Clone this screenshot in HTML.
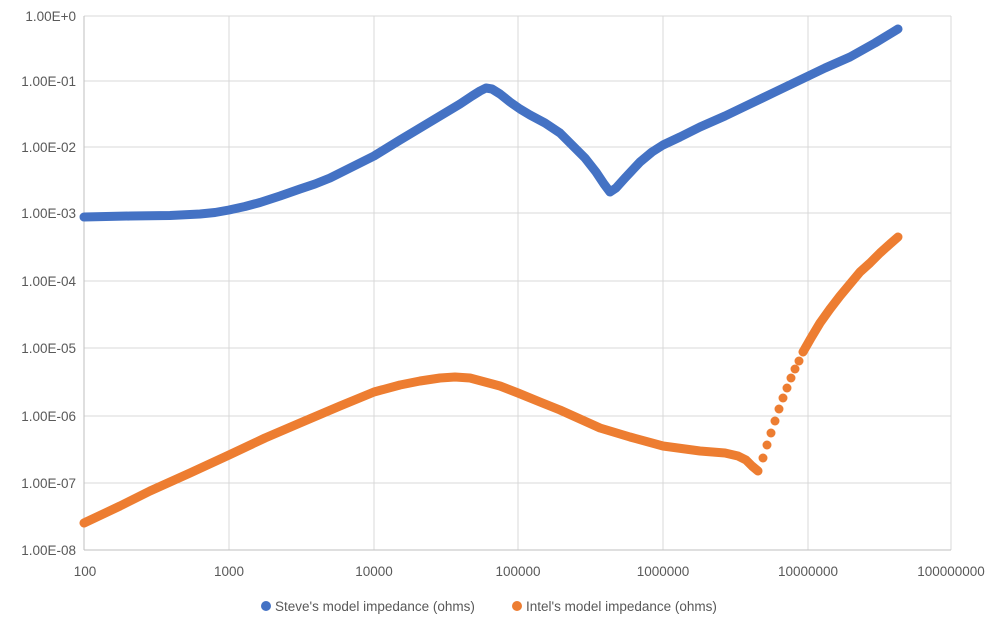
<!DOCTYPE html>
<html><head><style>
html,body{margin:0;padding:0;background:#fff;}
svg{display:block;font-family:"Liberation Sans",sans-serif;}
</style></head><body>
<svg width="999" height="625" viewBox="0 0 999 625">
<g stroke="#d9d9d9" stroke-width="1">
<line x1="84" y1="16" x2="951" y2="16"/><line x1="84" y1="81" x2="951" y2="81"/>
<line x1="84" y1="147" x2="951" y2="147"/><line x1="84" y1="213" x2="951" y2="213"/>
<line x1="84" y1="281" x2="951" y2="281"/><line x1="84" y1="348" x2="951" y2="348"/>
<line x1="84" y1="416" x2="951" y2="416"/><line x1="84" y1="483" x2="951" y2="483"/>
<line x1="229" y1="16" x2="229" y2="550"/><line x1="374" y1="16" x2="374" y2="550"/>
<line x1="518" y1="16" x2="518" y2="550"/><line x1="663" y1="16" x2="663" y2="550"/>
<line x1="808" y1="16" x2="808" y2="550"/><line x1="951" y1="16" x2="951" y2="550"/>
</g>
<g stroke="#bfbfbf" stroke-width="1"><line x1="84" y1="16" x2="84" y2="550"/><line x1="84" y1="550" x2="951" y2="550"/></g>
<g font-size="13.5" fill="#595959" text-anchor="end">
<text x="76" y="21">1.00E+0</text><text x="76" y="86">1.00E-01</text><text x="76" y="152">1.00E-02</text>
<text x="76" y="218">1.00E-03</text><text x="76" y="286">1.00E-04</text><text x="76" y="353">1.00E-05</text>
<text x="76" y="421">1.00E-06</text><text x="76" y="488">1.00E-07</text><text x="76" y="555">1.00E-08</text>
</g>
<g font-size="13.5" fill="#595959" text-anchor="middle">
<text x="85" y="576">100</text><text x="229" y="576">1000</text><text x="374" y="576">10000</text>
<text x="518" y="576">100000</text><text x="663" y="576">1000000</text><text x="808" y="576">10000000</text>
<text x="951" y="576">100000000</text>
</g>
<polyline fill="none" stroke="#4472c4" stroke-width="9" stroke-linecap="round" stroke-linejoin="round"
points="84,217 130,216 170,215.5 200,214 215,212.5 229,210 245,206.5 260,202.5 280,196 300,189 315,184 330,178 350,168 374,156 400,140 420,128 440,116 460,104 472,96 480,91 486,88 492,89 500,94 510,102 520,109 530,115 545,123 560,133 572,145 585,158 596,172 604,184 610,192 616,188 625,178 640,162 652,152 663,145 680,137 700,127 725,116 750,104 775,92 800,80 825,68 850,57 875,43 898,29"/>
<polyline fill="none" stroke="#ed7d31" stroke-width="9" stroke-linecap="round" stroke-linejoin="round"
points="84,523 120,506 150,491 190,473 229,455 265,438 300,423 340,406 374,392 400,385 420,381 440,378 455,377 470,378 485,382 500,386 518,393 540,402 560,410 580,419 600,428 630,437 663,446 700,451 725,453 738,456 746,460 752,466 758,471"/>
<g fill="#ed7d31">
<circle cx="763" cy="458" r="4.5"/><circle cx="767" cy="445" r="4.5"/><circle cx="771" cy="433" r="4.5"/>
<circle cx="775" cy="421" r="4.5"/><circle cx="779" cy="409" r="4.5"/><circle cx="783" cy="398" r="4.5"/>
<circle cx="787" cy="388" r="4.5"/><circle cx="791" cy="378" r="4.5"/><circle cx="795" cy="369" r="4.5"/>
<circle cx="799" cy="361" r="4.5"/>
</g>
<polyline fill="none" stroke="#ed7d31" stroke-width="9" stroke-linecap="round" stroke-linejoin="round"
points="803,352 811,338 820,323 830,309 840,296 850,284 860,272 870,263 880,253 890,244 898,237"/>
<g font-size="13.5" fill="#595959">
<circle cx="266" cy="606" r="5" fill="#4472c4"/><text x="275" y="611">Steve's model impedance (ohms)</text>
<circle cx="517" cy="606" r="5" fill="#ed7d31"/><text x="526" y="611">Intel's model impedance (ohms)</text>
</g>
</svg>
</body></html>
